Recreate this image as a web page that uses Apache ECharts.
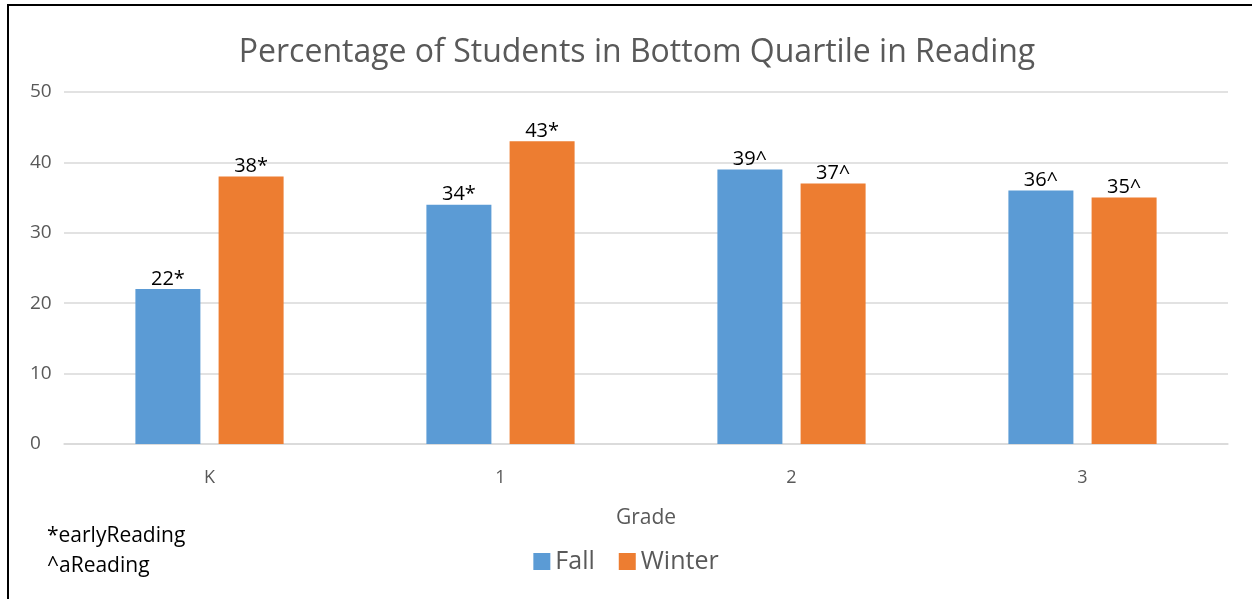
<!DOCTYPE html>
<html>
<head>
<meta charset="utf-8">
<script src="https://cdn.jsdelivr.net/npm/echarts@6/dist/echarts.min.js"></script>
<style>
  html, body { margin: 0; padding: 0; background: #fff; }
  .frame {
    position: absolute; left: 7px; top: 4px; width: 1250px; height: 600px;
    border-left: 2px solid #000; border-top: 2px solid #000; box-sizing: border-box;
    pointer-events: none;
  }
  #chart { width: 1252px; height: 599px; }
</style>
</head>
<body>
<div id="chart"></div>
<div class="frame"></div>
<script>
const grades = ['K', '1', '2', '3'];
const fall = [22, 34, 39, 36];
const winter = [38, 43, 37, 35];
const marks = ['*', '*', '^', '^'];
const yTicks = [0, 10, 20, 30, 40, 50];

const font = 'Open Sans, Noto Sans, sans-serif';
const chart = echarts.init(document.getElementById('chart'));

function barLabel(p) {
  return p.value + marks[p.dataIndex];
}

chart.setOption({
  animation: false,
  textStyle: { fontFamily: font },
  title: {
    text: 'Percentage of Students in Bottom Quartile in Reading',
    left: 632, top: 32, textAlign: 'center',
    textStyle: { fontSize: 32, fontWeight: 'normal', color: '#595959', fontFamily: font }
  },
  legend: {
    data: ['Fall', 'Winter'],
    left: 'center', top: 544,
    itemWidth: 17, itemHeight: 17, itemGap: 24,
    icon: 'rect',
    textStyle: { fontSize: 25, color: '#595959', fontFamily: font }
  },
  grid: { left: 64, right: 24, top: 92, bottom: 155 },
  xAxis: {
    type: 'category',
    data: grades,
    name: 'Grade',
    nameLocation: 'middle',
    nameGap: 64,
    nameTextStyle: { fontSize: 21, color: '#595959' },
    axisLine: { lineStyle: { color: '#d9d9d9', width: 1.5 } },
    axisTick: { show: false },
    axisLabel: { fontSize: 18, color: '#595959', margin: 25 }
  },
  yAxis: {
    type: 'value',
    min: yTicks[0], max: yTicks[yTicks.length - 1], interval: 10,
    axisLine: { show: false },
    axisTick: { show: false },
    splitLine: { lineStyle: { color: '#d9d9d9', width: 1.5 } },
    axisLabel: { fontSize: 19, color: '#595959', margin: 34, align: 'left' }
  },
  graphic: [
    { type: 'text', left: 47, top: 526, style: { text: '*earlyReading', fontSize: 21, fill: '#000', fontFamily: font } },
    { type: 'text', left: 47, top: 556, style: { text: '^aReading', fontSize: 21, fill: '#000', fontFamily: font } }
  ],
  series: [
    {
      name: 'Fall', type: 'bar', data: fall,
      barWidth: 65, barGap: '28%',
      itemStyle: { color: '#5b9bd5' },
      label: { show: true, position: 'top', formatter: barLabel, fontSize: 20, color: '#000', distance: 0 }
    },
    {
      name: 'Winter', type: 'bar', data: winter,
      barWidth: 65,
      itemStyle: { color: '#ed7d31' },
      label: { show: true, position: 'top', formatter: barLabel, fontSize: 20, color: '#000', distance: 0 }
    }
  ]
});
</script>
</body>
</html>
